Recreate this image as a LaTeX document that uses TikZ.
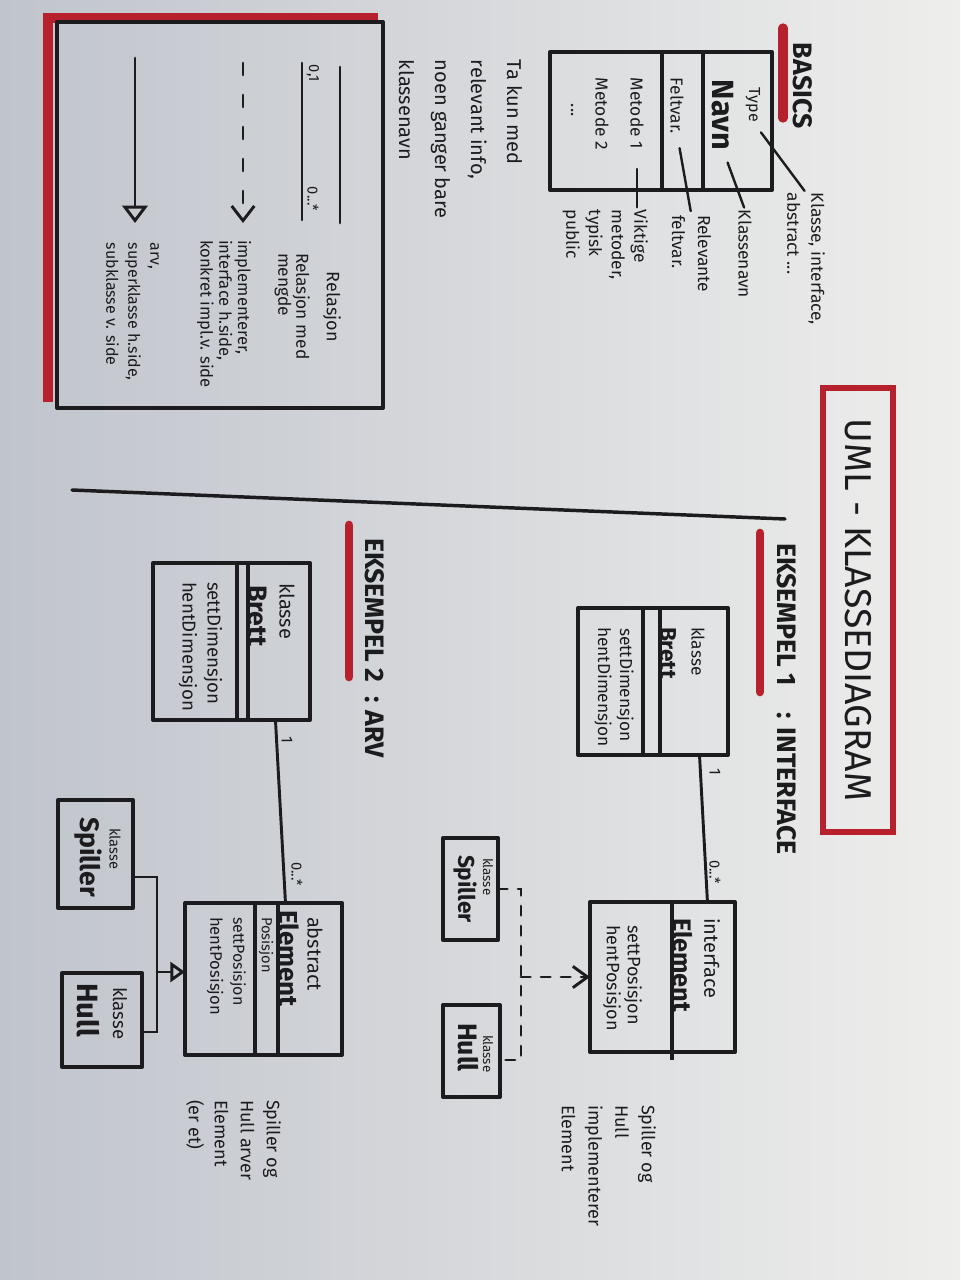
\documentclass[tikz,border=0pt]{standalone}
\usepackage{fontspec}
\setmainfont{Fira Sans}
\usepackage{tikz}
\usetikzlibrary{arrows.meta,calc}

\definecolor{ink}{RGB}{28,28,30}
\definecolor{marker}{RGB}{183,32,45}
\definecolor{paperdark}{RGB}{192,196,204}
\definecolor{paperlight}{RGB}{238,238,236}

\newcommand{\penfont}[2]{\fontsize{#1}{#2}\selectfont}

\begin{document}
\begin{tikzpicture}[x=0.75pt,y=0.75pt,yscale=-1,xscale=1,
  hand/.style={rotate=-90,inner sep=0pt,outer sep=0pt,text=ink,align=left},
  umlbox/.style={draw=ink,line width=3pt,inner sep=0pt,outer sep=0pt,line join=round},
  divider/.style={draw=ink,line width=2.6pt},
  link/.style={draw=ink,line width=2.2pt,line cap=round},
  redbar/.style={draw=marker,line width=6.5pt,line cap=round}]

%Paper
\shade[left color=paperdark,right color=paperlight] (0,0) rectangle (960,1280);
\useasboundingbox (0,0) rectangle (960,1280);

%Shape: Title box
\node[hand,anchor=center,draw=marker,line width=5pt,minimum width=333pt,minimum height=52.5pt,font=\penfont{28}{32}] (title) at (858,610) {UML - KLASSEDIAGRAM};

%Straight Lines: divider across the sheet
\draw[link,line width=2.6pt] (72,490) -- (785,519);

%Shape: Legend box
\draw[marker,line width=8pt] (48,402) -- (48,18) -- (378,18);
\node[umlbox,minimum width=244.5pt,minimum height=289.5pt] (legend) at (220,215) {};
\draw[link] (340,67) -- (340,223);
\draw[link] (302,63) -- (302,220);
\draw[link,dash pattern=on 9pt off 15pt,-{Straight Barb[length=11pt,width=17pt]}] (243,63) -- (243,223);
\draw[link,-{Triangle[open,length=13pt,width=19pt]}] (135,58) -- (135,223);
\node[hand,anchor=west,font=\penfont{11}{13}] (multOne) at (313,65) {0,1};
\node[hand,anchor=west,font=\penfont{11}{13}] (multMany) at (313,187) {0...*};
\node[hand,anchor=west,font=\penfont{13.5}{15}] (relTxt) at (332,272) {Relasjon};
\node[hand,anchor=north west,font=\penfont{13}{13.5}] (relMengde) at (310,253) {Relasjon med\\mengde};
\node[hand,anchor=north west,font=\penfont{12.5}{14}] (implTxt) at (251,240) {implementerer,\\interface h.side,\\konkret impl.v. side};
\node[hand,anchor=north west,font=\penfont{12}{16.5}] (arvTxt) at (159,243) {arv,\\superklasse h.side,\\subklasse v. side};

%Basics
\draw[redbar,line width=7pt] (783,28) -- (783,118);
\node[hand,anchor=west,font=\bfseries\penfont{20}{24}] (basicsTxt) at (803,43) {BASICS};
\node[umlbox,minimum width=166.5pt,minimum height=103.5pt] (basics) at (661,121) {};
\draw[divider] (703,52) -- (703,190);
\draw[divider] (662,52) -- (662,190);
\node[hand,anchor=west,font=\penfont{12}{14}] (typeTxt) at (753,88) {Type};
\node[hand,anchor=west,font=\bfseries\penfont{23}{26}] (navnTxt) at (723,80) {Navn};
\node[hand,anchor=west,font=\penfont{13}{15}] (feltTxt) at (677,78) {Feltvar.};
\node[hand,anchor=west,font=\penfont{13}{15}] (metOneTxt) at (637,78) {Metode 1};
\node[hand,anchor=west,font=\penfont{13}{15}] (metTwoTxt) at (602,78) {Metode 2};
\node[hand,anchor=west,font=\penfont{13}{15}] (dotsTxt) at (572,104) {...};
\node[hand,anchor=north west,font=\penfont{13}{18}] (lblType) at (825,193) {Klasse, interface,\\abstract ...};
\node[hand,anchor=west,font=\penfont{13}{15}] (lblNavn) at (745,210) {Klassenavn};
\node[hand,anchor=north west,font=\penfont{13}{19.5}] (lblFelt) at (711,215) {Relevante\\feltvar.};
\node[hand,anchor=north west,font=\penfont{13}{17}] (lblMetode) at (648,210) {Viktige\\metoder,\\typisk\\public};
\draw[link,line width=1.8pt,shorten <=10pt,shorten >=2pt] (typeTxt.east) -- (lblType.west);
\draw[link,line width=1.8pt,shorten <=10pt,shorten >=2pt] (navnTxt.east) -- (lblNavn.west);
\draw[link,line width=1.8pt,shorten <=11pt,shorten >=3pt] (feltTxt.east) -- (lblFelt.west);
\draw[link,line width=1.8pt,shorten <=15pt,shorten >=2pt] (metOneTxt.east) -- (metOneTxt.east |- lblMetode.north west);

%Note
\node[hand,anchor=north west,font=\penfont{15}{27}] (tipTxt) at (522,60) {Ta kun med\\relevant info,\\noen ganger bare\\klassenavn};

%Example 1: interface
\draw[redbar] (760,533) -- (760,692);
\node[hand,anchor=west,font=\bfseries\penfont{20}{24}] (exOneTxt) at (787,543) {EKSEMPEL 1\quad: INTERFACE};
\node[umlbox,minimum width=112.5pt,minimum height=110.25pt] (brettA) at (653,681.5) {};
\draw[divider] (660,608) -- (660,755);
\draw[divider] (643,608) -- (643,755);
\node[hand,anchor=west,font=\penfont{13}{15}] (brettAType) at (698,627) {klasse};
\node[hand,anchor=west,font=\bfseries\penfont{17}{20}] (brettAName) at (668,627) {Brett};
\node[hand,anchor=west,font=\penfont{13}{15}] (brettASet) at (625,628) {settDimensjon};
\node[hand,anchor=west,font=\penfont{13}{15}] (brettAGet) at (603,627) {hentDimensjon};

\node[umlbox,minimum width=108.75pt,minimum height=112.5pt] (elementA) at (662.5,977) {};
\draw[divider] (672,902) -- (672,1060);
\node[hand,anchor=west,font=\penfont{15}{17}] (elementAType) at (712,918) {interface};
\node[hand,anchor=west,font=\bfseries\penfont{19}{22}] (elementAName) at (683,918) {Element};
\node[hand,anchor=west,font=\penfont{13.5}{15}] (elementASet) at (633,925) {settPosisjon};
\node[hand,anchor=west,font=\penfont{13.5}{15}] (elementAGet) at (612,925) {hentPosisjon};

\node[umlbox,minimum width=41.25pt,minimum height=76.5pt] (spillerA) at (470.5,889) {};
\node[hand,anchor=west,font=\penfont{10}{12}] (spillerAType) at (488,858) {klasse};
\node[hand,anchor=west,font=\bfseries\penfont{17}{20}] (spillerAName) at (465,855) {Spiller};
\node[umlbox,minimum width=42.75pt,minimum height=69pt] (hullA) at (471.5,1051) {};
\node[hand,anchor=west,font=\penfont{10}{12}] (hullAType) at (488,1035) {klasse};
\node[hand,anchor=west,font=\bfseries\penfont{20}{23}] (hullAName) at (468,1023) {Hull};

\draw[link] ($(brettA.south west)!0.81!(brettA.south east)$) -- ($(elementA.north west)!0.81!(elementA.north east)$);
\node[hand,anchor=center,font=\penfont{12}{14}] (oneA) at (715,772) {1};
\node[hand,anchor=west,font=\penfont{11}{13}] (manyA) at (715,860) {0...*};
\coordinate (jA) at ($(elementA.west)+(-69,0)$);
\draw[link,dash pattern=on 7pt off 8pt] (spillerA.east) -| (jA) |- ($(hullA.east)+(0,9)$);
\draw[link,dash pattern=on 7pt off 8pt,-{Straight Barb[length=11pt,width=16pt]}] (jA) -- (elementA.west);
\node[hand,anchor=north west,font=\penfont{13.5}{20}] (noteA) at (656,1105) {Spiller og\\Hull\\implementerer\\Element};

%Example 2: arv
\draw[redbar] (349,525) -- (349,677);
\node[hand,anchor=west,font=\bfseries\penfont{20}{24}] (exTwoTxt) at (375,538) {EKSEMPEL 2\enspace: ARV};
\node[umlbox,minimum width=117.75pt,minimum height=117.75pt] (brettB) at (231.5,641.5) {};
\draw[divider] (248,563) -- (248,720);
\draw[divider] (237,563) -- (237,720);
\node[hand,anchor=west,font=\penfont{15}{17}] (brettBType) at (287,583) {klasse};
\node[hand,anchor=west,font=\bfseries\penfont{20}{23}] (brettBName) at (258,585) {Brett};
\node[hand,anchor=west,font=\penfont{14}{16}] (brettBSet) at (213,582) {settDimensjon};
\node[hand,anchor=west,font=\penfont{14}{16}] (brettBGet) at (188,582) {hentDimensjon};

\node[umlbox,minimum width=117.75pt,minimum height=114pt] (elementB) at (263.5,979) {};
\draw[divider] (278,903) -- (278,1055);
\draw[divider] (255,903) -- (255,1055);
\node[hand,anchor=west,font=\penfont{15}{17}] (elementBType) at (315,917) {abstract};
\node[hand,anchor=west,font=\bfseries\penfont{19.5}{22}] (elementBName) at (289,910) {Element};
\node[hand,anchor=west,font=\penfont{11}{13}] (elementBAttr) at (266,917) {Posisjon};
\node[hand,anchor=west,font=\penfont{12}{14}] (elementBSet) at (238,917) {settPosisjon};
\node[hand,anchor=west,font=\penfont{12.5}{14}] (elementBGet) at (215,917) {hentPosisjon};

\node[umlbox,minimum width=56.25pt,minimum height=81pt] (spillerB) at (95.5,854) {};
\node[hand,anchor=west,font=\penfont{11}{13}] (spillerBType) at (115,828) {klasse};
\node[hand,anchor=west,font=\bfseries\penfont{20}{23}] (spillerBName) at (88,817) {Spiller};
\node[umlbox,minimum width=60pt,minimum height=70.5pt] (hullB) at (102,1020) {};
\node[hand,anchor=west,font=\penfont{14}{16}] (hullBType) at (120,987) {klasse};
\node[hand,anchor=west,font=\bfseries\penfont{22}{25}] (hullBName) at (88,983) {Hull};

\draw[link] ($(brettB.south west)!0.78!(brettB.south east)$) -- ($(elementB.north west)!0.64!(elementB.north east)$);
\node[hand,anchor=center,font=\penfont{12}{14}] (oneB) at (287,740) {1};
\node[hand,anchor=west,font=\penfont{11}{13}] (manyB) at (297,862) {0...*};
\coordinate (jB) at ($(elementB.west)+(-28,-7)$);
\draw[link] ($(spillerB.east)+(0,23)$) -| (jB) |- ($(hullB.east)+(0,12)$);
\draw[link,-{Triangle[open,length=11pt,width=15pt]}] (jB) -- (jB -| elementB.west);
\node[hand,anchor=north west,font=\penfont{13.5}{19.5}] (noteB) at (281,1100) {Spiller og\\Hull arver\\Element\\(er et)};

\end{tikzpicture}
\end{document}
